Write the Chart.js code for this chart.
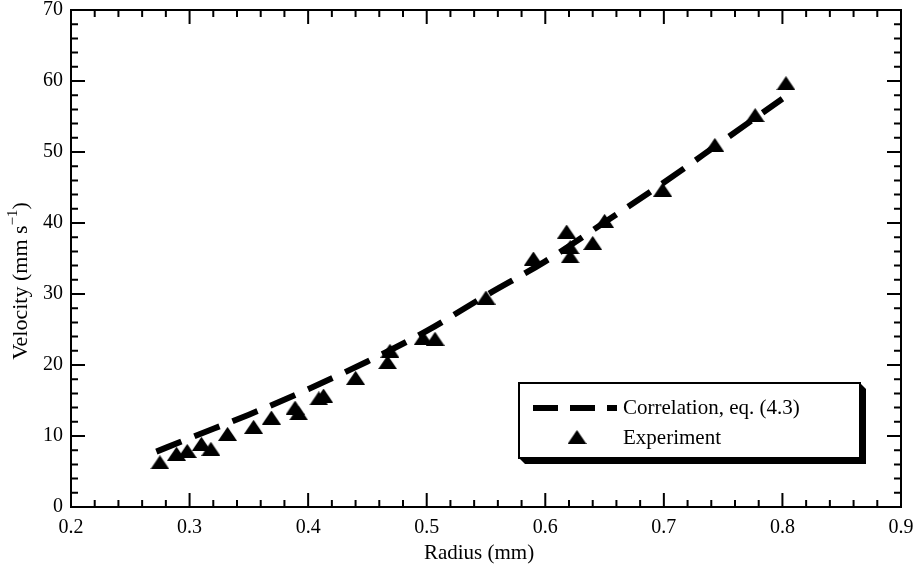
<!DOCTYPE html>
<html>
<head>
<meta charset="utf-8">
<title>Rise velocity vs radius</title>
<script src="https://cdn.jsdelivr.net/npm/chart.js@4"></script>
<style>
  html, body { margin: 0; padding: 0; background: #fff; }
  #chart_wrap { width: 919px; height: 570px; }
</style>
</head>
<body>
<div id="chart_wrap"><canvas id="chart_canvas" width="919" height="570"></canvas></div>
<script>
"use strict";

// measured radius (mm) and velocity (mm/s)
const radius_exp = [0.275, 0.289, 0.298, 0.310, 0.318, 0.332, 0.354, 0.369, 0.389, 0.392,
  0.409, 0.413, 0.440, 0.467, 0.469, 0.497, 0.507, 0.550, 0.590, 0.618,
  0.621, 0.621, 0.640, 0.650, 0.699, 0.743, 0.777, 0.803];
const velocity_exp = [6.3, 7.5, 7.9, 8.9, 8.2, 10.3, 11.3, 12.6, 14.0, 13.2,
  15.3, 15.7, 18.2, 20.4, 22.0, 23.8, 23.7, 29.5, 35.0, 38.8,
  36.6, 35.3, 37.2, 40.3, 44.7, 51.0, 55.2, 59.7];

// correlation curve, eq. (4.3)
const radius_fit = [0.272, 0.30, 0.35, 0.40, 0.45, 0.50, 0.55, 0.60, 0.65, 0.70, 0.75, 0.80];
const velocity_fit = [7.8, 9.7, 13.0, 16.6, 20.5, 24.8, 29.8, 34.6, 40.1, 45.7, 51.6, 57.5];

const x_ticks = [0.2, 0.3, 0.4, 0.5, 0.6, 0.7, 0.8, 0.9];
const y_ticks = [0, 10, 20, 30, 40, 50, 60, 70];
const x_minor_step = 0.02;
const y_minor_step = 2;

const x_title = "Radius (mm)";
const y_title = ["Velocity (mm s", "\u22121", ")"];
const legend_labels = ["Correlation, eq. (4.3)", "Experiment"];

const font_family = "'Liberation Serif', 'Times New Roman', serif";

function make_triangle(w, h) {
  const c = document.createElement("canvas");
  c.width = w;
  c.height = h;
  const ctx = c.getContext("2d");
  ctx.fillStyle = "#000";
  ctx.beginPath();
  ctx.moveTo(w / 2, 0);
  ctx.lineTo(w, h);
  ctx.lineTo(0, h);
  ctx.closePath();
  ctx.fill();
  return c;
}
const triangle = make_triangle(19, 14);

// box, inward ticks on every side
const frame_plugin = {
  id: "frame",
  afterDatasetsDraw(chart) {
    const { ctx, chartArea: a } = chart;
    const x = chart.scales.x, y = chart.scales.y;
    ctx.save();
    ctx.strokeStyle = "#000";
    ctx.lineWidth = 2;
    ctx.strokeRect(a.left, a.top, a.right - a.left, a.bottom - a.top);
    ctx.beginPath();
    const nx = Math.round((x.max - x.min) / x_minor_step);
    for (let i = 0; i <= nx; i++) {
      const px = x.getPixelForValue(x.min + i * x_minor_step);
      const len = i % 5 === 0 ? 14 : 7;
      ctx.moveTo(px, a.bottom);
      ctx.lineTo(px, a.bottom - len);
      ctx.moveTo(px, a.top);
      ctx.lineTo(px, a.top + len);
    }
    const ny = Math.round((y.max - y.min) / y_minor_step);
    for (let i = 0; i <= ny; i++) {
      const py = y.getPixelForValue(y.min + i * y_minor_step);
      const len = i % 5 === 0 ? 14 : 7;
      ctx.moveTo(a.left, py);
      ctx.lineTo(a.left + len, py);
      ctx.moveTo(a.right, py);
      ctx.lineTo(a.right - len, py);
    }
    ctx.stroke();
    ctx.restore();
  }
};

// axis titles (the y one has a superscript)
const titles_plugin = {
  id: "titles",
  afterDraw(chart) {
    const ctx = chart.ctx;
    ctx.save();
    ctx.fillStyle = "#000";
    ctx.textBaseline = "middle";
    ctx.textAlign = "center";
    ctx.font = "21px " + font_family;
    ctx.fillText(x_title, 479, 553);

    ctx.translate(21, 281);
    ctx.rotate(-Math.PI / 2);
    ctx.textAlign = "left";
    const big = "22px " + font_family, small = "15px " + font_family;
    ctx.font = big;
    const w0 = ctx.measureText(y_title[0]).width;
    const w2 = ctx.measureText(y_title[2]).width;
    ctx.font = small;
    const w1 = ctx.measureText(y_title[1]).width;
    let cx = -(w0 + w1 + w2) / 2;
    ctx.font = big;
    ctx.fillText(y_title[0], cx, 0);
    cx += w0;
    ctx.font = small;
    ctx.fillText(y_title[1], cx, -8);
    cx += w1;
    ctx.font = big;
    ctx.fillText(y_title[2], cx, 0);
    ctx.restore();
  }
};

// boxed legend with a drop shadow
const legend_plugin = {
  id: "box_legend",
  afterDraw(chart) {
    const ctx = chart.ctx;
    const l = 519, t = 383, r = 860, b = 458, sh = 6;
    ctx.save();
    ctx.fillStyle = "#000";
    ctx.beginPath();
    ctx.moveTo(l, b);
    ctx.lineTo(l + sh, b + sh);
    ctx.lineTo(r + sh, b + sh);
    ctx.lineTo(r + sh, t + sh);
    ctx.lineTo(r, t);
    ctx.closePath();
    ctx.fill();
    ctx.fillStyle = "#fff";
    ctx.fillRect(l, t, r - l, b - t);
    ctx.strokeStyle = "#000";
    ctx.lineWidth = 2;
    ctx.strokeRect(l, t, r - l, b - t);

    const line_ds = chart.data.datasets[0];
    ctx.lineWidth = line_ds.borderWidth;
    ctx.setLineDash([25, 12]);
    ctx.beginPath();
    ctx.moveTo(533, 408);
    ctx.lineTo(617, 408);
    ctx.stroke();
    ctx.setLineDash([]);
    ctx.drawImage(triangle, 577 - triangle.width / 2, 437 - triangle.height / 2);

    ctx.fillStyle = "#000";
    ctx.font = "21px " + font_family;
    ctx.textBaseline = "middle";
    ctx.fillText(legend_labels[0], 623, 408);
    ctx.fillText(legend_labels[1], 623, 438);
    ctx.restore();
  }
};

// keep the plot box fixed, labels may overhang the edges
function no_label_padding(s) {
  s.paddingTop = 0;
  s.paddingBottom = 0;
  s.paddingLeft = 0;
  s.paddingRight = 0;
}

const chart_canvas = document.getElementById("chart_canvas");
new Chart(chart_canvas, {
  type: "scatter",
  data: {
    datasets: [
      {
        label: legend_labels[0],
        data: radius_fit.map((v, i) => ({ x: v, y: velocity_fit[i] })),
        showLine: true,
        borderColor: "#000",
        borderWidth: 6,
        borderDash: [27, 14],
        borderCapStyle: "butt",
        pointRadius: 0,
        fill: false,
        cubicInterpolationMode: "monotone"
      },
      {
        label: legend_labels[1],
        data: radius_exp.map((v, i) => ({ x: v, y: velocity_exp[i] })),
        showLine: false,
        pointStyle: triangle,
        pointRadius: 9,
        backgroundColor: "#000",
        borderColor: "#000"
      }
    ]
  },
  options: {
    responsive: false,
    animation: false,
    devicePixelRatio: 1,
    layout: { padding: { top: 8, right: 18, bottom: 0, left: 0 } },
    plugins: {
      legend: { display: false },
      tooltip: { enabled: false }
    },
    scales: {
      x: {
        type: "linear",
        min: 0.2,
        max: 0.9,
        afterBuildTicks: s => { s.ticks = x_ticks.map(v => ({ value: v })); },
        afterFit: s => { s.height = 63; no_label_padding(s); },
        grid: { display: false, drawTicks: false },
        border: { display: false },
        ticks: {
          color: "#000",
          padding: 9,
          maxRotation: 0,
          autoSkip: false,
          font: { family: font_family, size: 20 },
          callback: v => Number(v).toFixed(1)
        }
      },
      y: {
        type: "linear",
        min: 0,
        max: 70,
        afterBuildTicks: s => { s.ticks = y_ticks.map(v => ({ value: v })); },
        afterFit: s => { s.width = 71; no_label_padding(s); },
        grid: { display: false, drawTicks: false },
        border: { display: false },
        ticks: {
          color: "#000",
          padding: 8,
          autoSkip: false,
          font: { family: font_family, size: 20 },
          callback: v => String(v)
        }
      }
    }
  },
  plugins: [frame_plugin, titles_plugin, legend_plugin]
});
</script>
</body>
</html>
